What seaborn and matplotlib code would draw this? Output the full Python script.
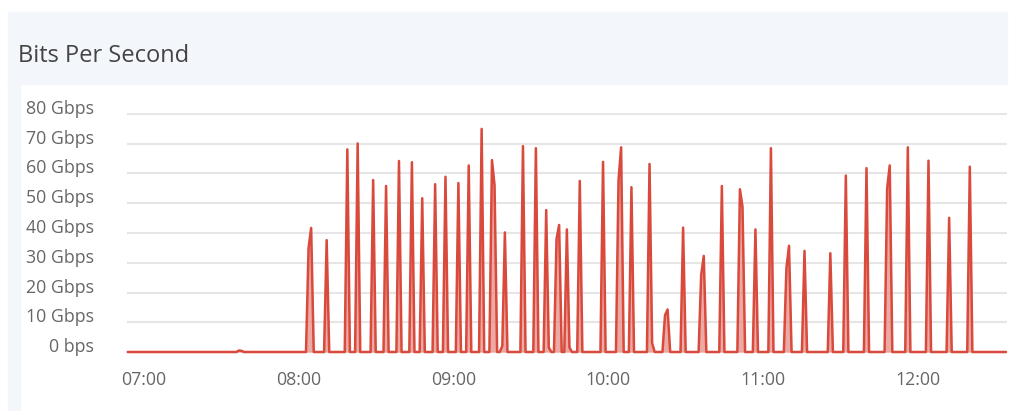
import pandas as pd
import numpy as np
import matplotlib
matplotlib.use("Agg")
import matplotlib.pyplot as plt
import matplotlib.dates as mdates
from matplotlib.patches import Rectangle
from matplotlib.transforms import ScaledTranslation
import seaborn as sns

# Datos (Gbps, muestras por minuto; el resto es 0)
spike_times = [
    "07:37", "07:38", "08:04", "08:05", "08:11", "08:19", "08:23", "08:29", "08:34",
    "08:39", "08:44", "08:48", "08:53", "08:57", "09:02", "09:06", "09:11",
    "09:15", "09:16", "09:19", "09:20", "09:27", "09:32", "09:36", "09:37",
    "09:40", "09:41", "09:44", "09:45", "09:49", "09:58", "10:04", "10:05",
    "10:09", "10:16", "10:17", "10:22", "10:23", "10:29", "10:36", "10:37",
    "10:44", "10:51", "10:52", "10:57", "11:03", "11:09", "11:10", "11:16",
    "11:26", "11:32", "11:40", "11:48", "11:49", "11:56", "12:04", "12:12",
    "12:20",
]
spike_values = [
    0.5, 0.4, 35.0, 41.7, 37.6, 68.1, 70.1, 57.8, 55.8,
    64.2, 63.8, 51.7, 56.4, 58.9, 56.8, 62.7, 75.0,
    64.5, 56.0, 2.0, 40.2, 69.2, 68.5, 47.7, 1.5,
    38.0, 42.7, 41.2, 1.5, 57.5, 63.9, 57.8, 68.8,
    55.4, 63.2, 3.0, 12.4, 14.3, 41.8, 25.9, 32.3,
    55.8, 54.7, 48.8, 41.2, 68.5, 28.2, 35.7, 34.0,
    33.2, 59.3, 61.8, 55.0, 62.7, 68.8, 64.3, 45.1,
    62.3,
]
start_time = "06:54"
end_time = "12:34"
y_ticks = [0, 10, 20, 30, 40, 50, 60, 70, 80]

day = "2020-01-01 "
idx = pd.date_range(day + start_time, day + end_time, freq="1min")
s = pd.Series(spike_values, index=pd.to_datetime([day + t for t in spike_times]))
df = pd.DataFrame({"time": idx, "gbps": s.reindex(idx, fill_value=0.0).values})

sns.set_theme(style="white")
plt.rcParams["font.family"] = ["Open Sans", "DejaVu Sans"]

W, H = 1024, 411
fig = plt.figure(figsize=(W / 100, H / 100), dpi=100, facecolor="white")

# Fondo tipo panel
bg = "#f3f6fa"
fig.patches.append(Rectangle((8 / W, 1 - 84 / H), (1007 - 8) / W, 72 / H,
                             transform=fig.transFigure, color=bg, zorder=0))
fig.patches.append(Rectangle((8 / W, 0), 12 / W, 1 - 84 / H,
                             transform=fig.transFigure, color=bg, zorder=0))
fig.text(18 / W, 1 - 56 / H, "Bits Per Second", fontsize=17, color="#444444",
         va="center", ha="left")

ax = fig.add_axes([127 / W, (H - 353.5) / H, (1007 - 127) / W, (353.5 - 112.5) / H])
ax.set_facecolor("none")

red = "#d9493c"
sns.lineplot(data=df, x="time", y="gbps", ax=ax, color=red, linewidth=1.8,
             clip_on=False, zorder=3)
ax.fill_between(df["time"], df["gbps"], 0, color="#e58f86", alpha=0.75,
                linewidth=0, zorder=2)

ax.set_xlim(pd.Timestamp(day + "06:53:42"), pd.Timestamp(day + "12:34:24"))
ax.set_ylim(-0.5, 80.5)
ax.set_yticks(y_ticks)
ax.set_yticklabels(["0 bps" if v == 0 else f"{v} Gbps" for v in y_ticks])
ax.yaxis.grid(True, color="#e6e6e6", linewidth=1.5)
ax.set_axisbelow(True)
ax.xaxis.set_major_locator(mdates.HourLocator())
ax.xaxis.set_major_formatter(mdates.DateFormatter("%H:%M"))
ax.set_xlabel("")
ax.set_ylabel("")
for sp in ax.spines.values():
    sp.set_visible(False)

ax.tick_params(axis="x", colors="#c5cde6", length=9.5, width=1, direction="out",
               pad=3, labelcolor="#666666", labelsize=12.8)
ax.tick_params(axis="y", length=0, pad=24, labelcolor="#666666", labelsize=12.8)
off = ScaledTranslation(0, 7 / 100, fig.dpi_scale_trans)
for lab in ax.get_yticklabels():
    lab.set_transform(lab.get_transform() + off)

fig.savefig("out.png", dpi=100, facecolor="white")
